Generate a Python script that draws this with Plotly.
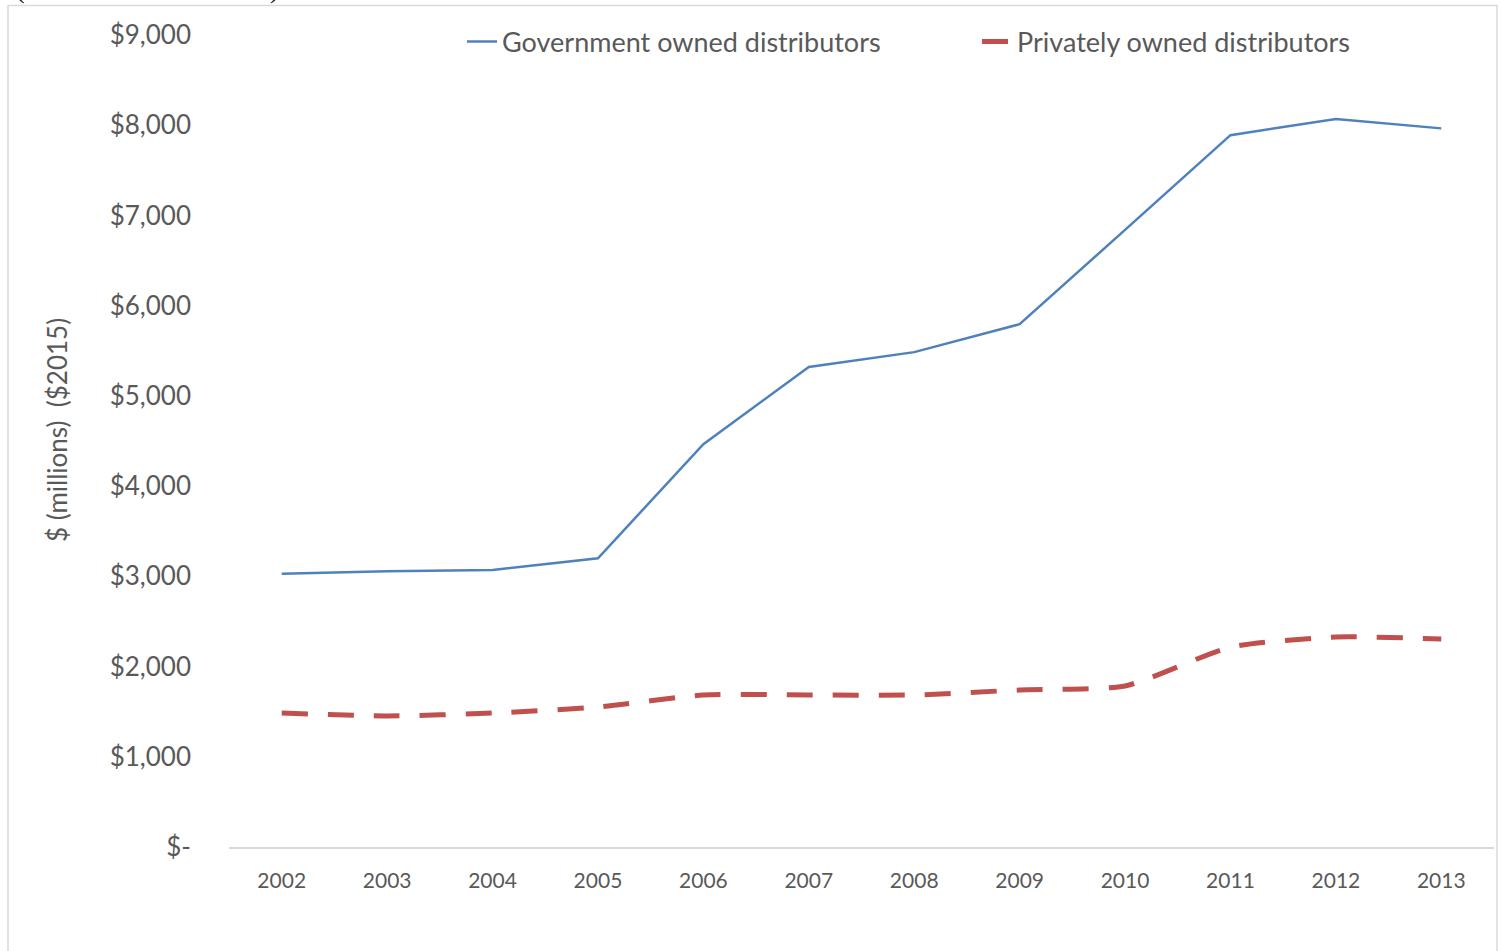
import plotly.graph_objects as go

years = ["2002", "2003", "2004", "2005", "2006", "2007", "2008", "2009", "2010", "2011", "2012", "2013"]
government = [3030, 3055, 3070, 3200, 4465, 5320, 5485, 5795, 6840, 7890, 8070, 7965]
private = [1485, 1452, 1485, 1552, 1685, 1685, 1685, 1740, 1785, 2215, 2328, 2305]
ytick_vals = [0, 1000, 2000, 3000, 4000, 5000, 6000, 7000, 8000, 9000]
ytick_text = ["$-" if v == 0 else "${:,}".format(v) for v in ytick_vals]
y_title = "$ (millions)  ($2015)"

W, H = 1501, 951
L, R, T, B = 229, 7, 35, 104
pw, ph = W - L - R, H - T - B


def px_x(x):
    return (x - L) / pw


def px_y(y):
    return (H - B - y) / ph


FONT = "Lato"
GREY = "#595959"

fig = go.Figure()
fig.add_trace(go.Scatter(
    x=years, y=government, mode="lines", name="Government owned distributors",
    line=dict(color="#4F81BD", width=2.5),
))
fig.add_trace(go.Scatter(
    x=years, y=private, mode="lines", name="Privately owned distributors",
    line=dict(color="#C0504D", width=5, dash="26px,20px", shape="spline", smoothing=0.6),
))

fig.update_layout(
    width=W, height=H,
    margin=dict(l=L, r=R, t=T, b=B),
    paper_bgcolor="white", plot_bgcolor="white",
    font=dict(family=FONT, size=22, color=GREY),
    showlegend=True,
    legend=dict(
        orientation="h", x=px_x(462), xanchor="left", y=px_y(42), yanchor="middle",
        font=dict(family=FONT, size=27, color=GREY),
        entrywidth=470, entrywidthmode="pixels",
        bgcolor="rgba(0,0,0,0)",
    ),
    xaxis=dict(
        type="category", range=[-0.5, 11.5],
        showgrid=False, showline=True, linecolor="#D9D9D9", linewidth=2,
        ticks="", ticklabelstandoff=14,
        tickfont=dict(family=FONT, size=21, color=GREY),
    ),
    yaxis=dict(
        range=[0, 9000], tickvals=ytick_vals, ticktext=ytick_text,
        showgrid=False, showline=False, zeroline=False, ticks="",
        ticklabelstandoff=37,
        tickfont=dict(family=FONT, size=26, color=GREY),
    ),
    shapes=[
        dict(type="rect", xref="paper", yref="paper",
             x0=px_x(8), x1=px_x(1497), y0=px_y(960), y1=px_y(5.5),
             line=dict(color="#D9D9D9", width=1.5), fillcolor="rgba(0,0,0,0)", layer="below"),
    ],
    annotations=[
        dict(text=y_title, xref="paper", yref="paper", x=px_x(57), y=px_y(430),
             xanchor="center", yanchor="middle", textangle=-90, showarrow=False,
             font=dict(family=FONT, size=26, color=GREY)),
        dict(text="(", xref="paper", yref="paper", x=px_x(14), y=px_y(6), xanchor="left", yanchor="bottom",
             showarrow=False, font=dict(family="Liberation Serif", size=26, color="black")),
        dict(text=")", xref="paper", yref="paper", x=px_x(268), y=px_y(6), xanchor="left", yanchor="bottom",
             showarrow=False, font=dict(family="Liberation Serif", size=26, color="black")),
    ],
)

fig.write_html("out.html")
